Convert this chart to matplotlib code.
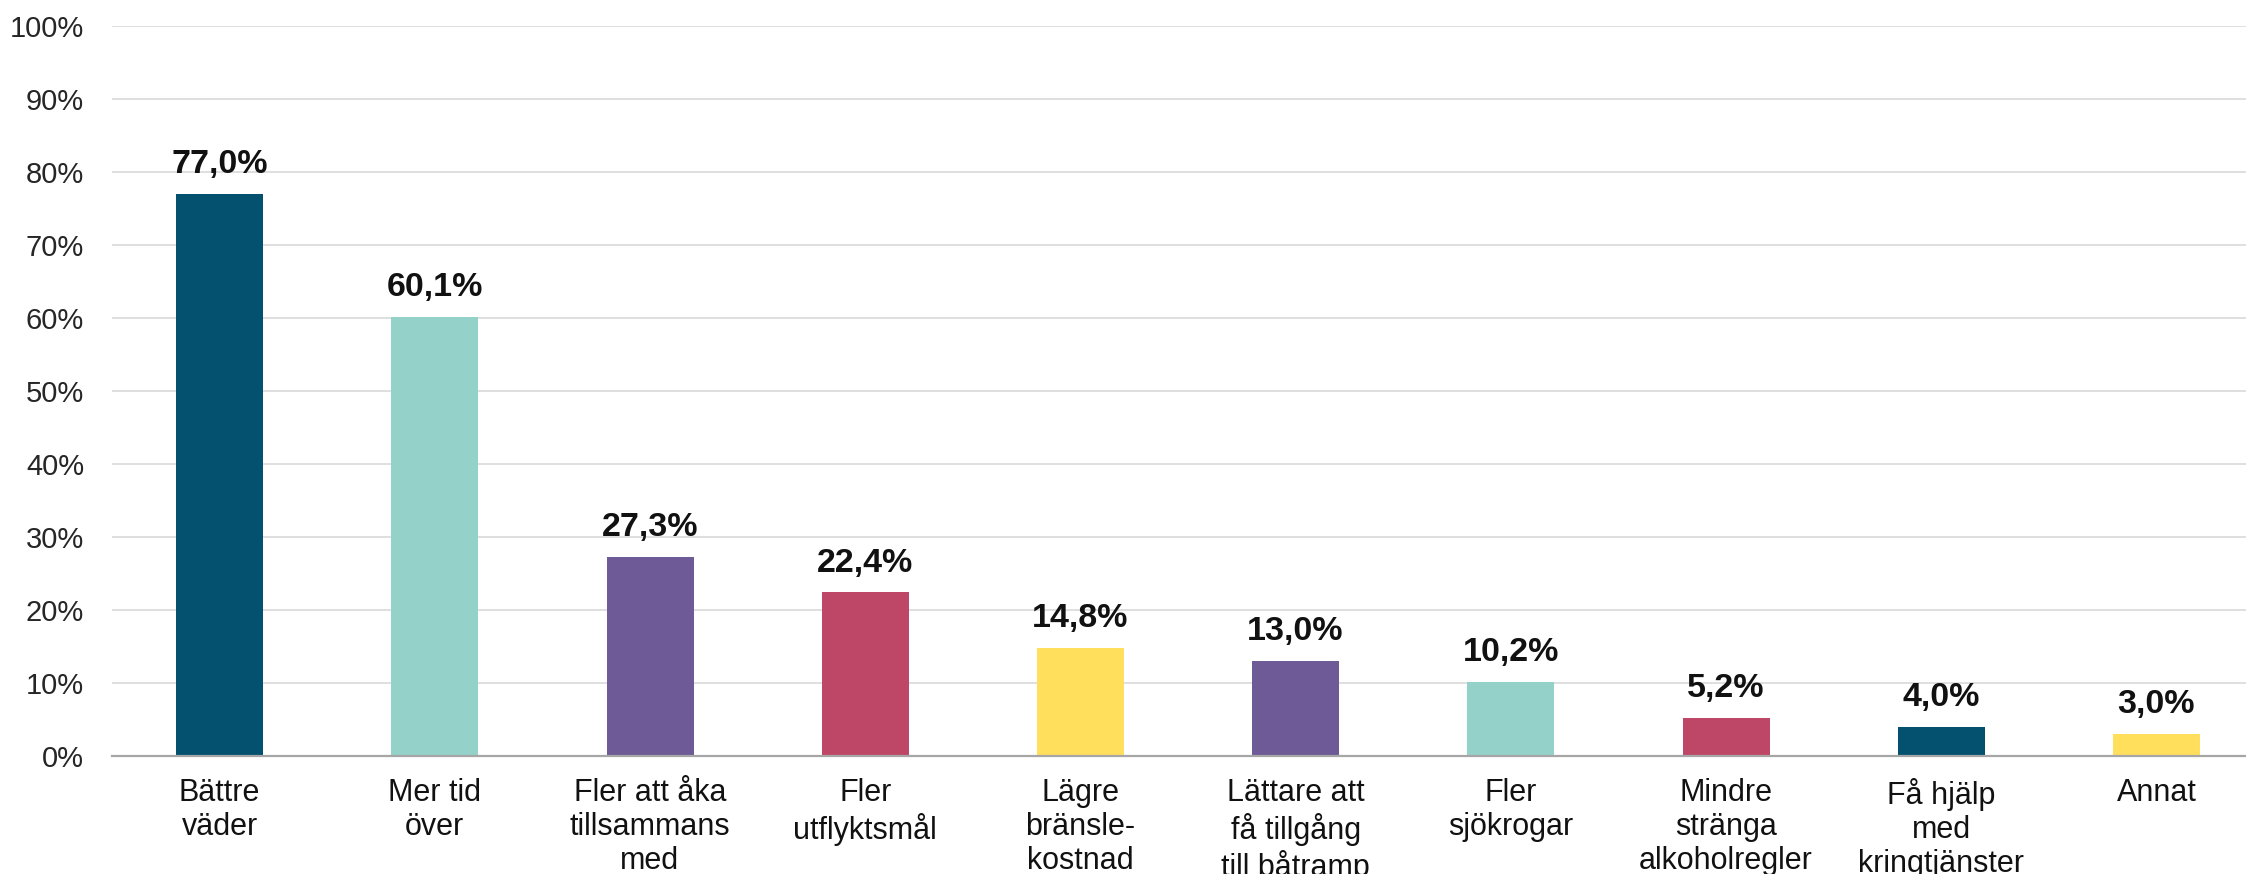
import matplotlib
matplotlib.use("Agg")
import matplotlib.pyplot as plt

categories = ["Bättre\nväder", "Mer tid\növer", "Fler att åka\ntillsammans\nmed",
              "Fler\nutflyktsmål", "Lägre\nbränsle-\nkostnad", "Lättare att\nfå tillgång\ntill båtramp",
              "Fler\nsjökrogar", "Mindre\nstränga\nalkoholregler", "Få hjälp\nmed\nkringtjänster", "Annat"]
values = [77.0, 60.1, 27.3, 22.4, 14.8, 13.0, 10.2, 5.2, 4.0, 3.0]
bar_colors = ["#03506F", "#93D1C9", "#6E5A96", "#BE4666", "#FFDF5C",
              "#6E5A96", "#93D1C9", "#BE4666", "#03506F", "#FFDF5C"]
yticks = [0, 10, 20, 30, 40, 50, 60, 70, 80, 90, 100]
ytick_labels = [f"{t}%" for t in yticks]

W, H, DPI = 2246, 874, 100
fig = plt.figure(figsize=(W / DPI, H / DPI), dpi=DPI)
slot = 215.2
left_px, bottom_px, top_px = 112, 756, 26
ax = fig.add_axes([left_px / W, (H - bottom_px) / H, slot * 10 / W, (bottom_px - top_px) / H])

x = list(range(len(values)))
ax.bar(x, values, width=87 / slot, color=bar_colors, zorder=3)
ax.set_xlim(-0.5, len(values) - 0.5)
ax.set_ylim(0, 100)
ax.set_yticks(yticks)
ax.set_yticklabels(ytick_labels, fontsize=21, family="Liberation Sans", color="#262626")
ax.set_xticks(x)
ax.set_xticklabels(categories, fontsize=22, family="Liberation Sans", color="#111111",
                   linespacing=1.17, va="top")
ax.tick_params(axis="both", length=0)
ax.tick_params(axis="y", pad=20)
ax.tick_params(axis="x", pad=16)
ax.grid(axis="y", color="#D9D9D9", linewidth=1.2, zorder=0)
for s in ["top", "right", "left"]:
    ax.spines[s].set_visible(False)
ax.spines["bottom"].set_color("#A6A6A6")
ax.spines["bottom"].set_linewidth(1.6)
ax.spines["bottom"].set_zorder(4)

for xi, v in zip(x, values):
    ax.annotate(f"{v:.1f}".replace(".", ",") + "%", (xi, v), xytext=(0, 15), textcoords="offset points",
                ha="center", va="baseline", fontsize=24.5, fontweight="bold", family="Liberation Sans",
                color="#111111")

fig.savefig("out.png", dpi=DPI)
